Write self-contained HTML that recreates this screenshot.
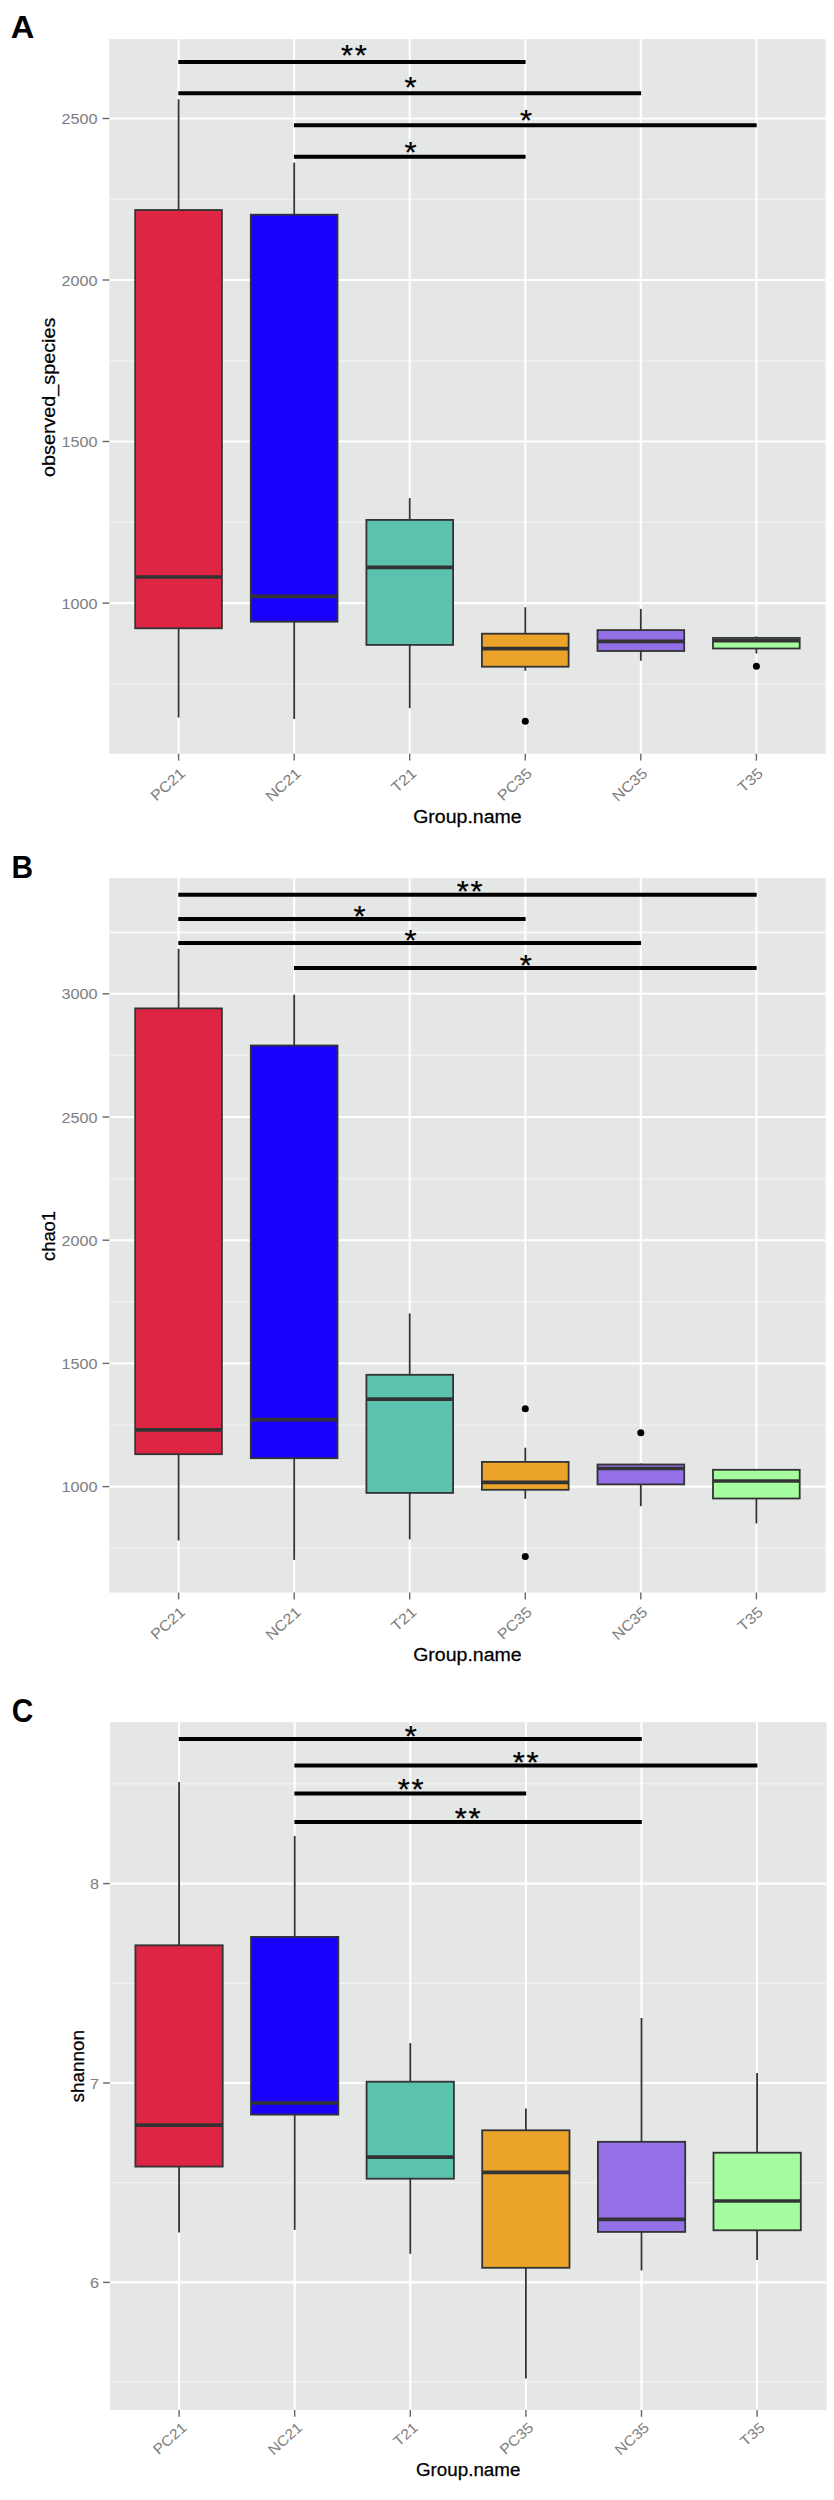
<!DOCTYPE html>
<html lang="en"><head><meta charset="utf-8"><title>Alpha diversity boxplots</title>
<style>html,body{margin:0;padding:0;background:#fff}svg{display:block}text{font-family:"Liberation Sans",Arial,Helvetica,sans-serif}</style></head><body>
<svg width="834" height="2500" viewBox="0 0 834 2500">
<rect width="834" height="2500" fill="#ffffff"/>
<g>
<rect x="109.3" y="39.1" width="716.3" height="714.7" fill="#e5e6e6"/>
<line x1="109.3" x2="825.6" y1="199.3" y2="199.3" stroke="#f1f2f2" stroke-width="1.2"/>
<line x1="109.3" x2="825.6" y1="360.8" y2="360.8" stroke="#f1f2f2" stroke-width="1.2"/>
<line x1="109.3" x2="825.6" y1="522.2" y2="522.2" stroke="#f1f2f2" stroke-width="1.2"/>
<line x1="109.3" x2="825.6" y1="683.8" y2="683.8" stroke="#f1f2f2" stroke-width="1.2"/>
<line x1="109.3" x2="825.6" y1="118.5" y2="118.5" stroke="#fff" stroke-width="2.1"/>
<line x1="109.3" x2="825.6" y1="280.0" y2="280.0" stroke="#fff" stroke-width="2.1"/>
<line x1="109.3" x2="825.6" y1="441.5" y2="441.5" stroke="#fff" stroke-width="2.1"/>
<line x1="109.3" x2="825.6" y1="603.1" y2="603.1" stroke="#fff" stroke-width="2.1"/>
<line x1="178.6" x2="178.6" y1="39.1" y2="753.8" stroke="#fff" stroke-width="2.1"/>
<line x1="294.2" x2="294.2" y1="39.1" y2="753.8" stroke="#fff" stroke-width="2.1"/>
<line x1="409.7" x2="409.7" y1="39.1" y2="753.8" stroke="#fff" stroke-width="2.1"/>
<line x1="525.3" x2="525.3" y1="39.1" y2="753.8" stroke="#fff" stroke-width="2.1"/>
<line x1="640.8" x2="640.8" y1="39.1" y2="753.8" stroke="#fff" stroke-width="2.1"/>
<line x1="756.4" x2="756.4" y1="39.1" y2="753.8" stroke="#fff" stroke-width="2.1"/>
<line x1="102.5" x2="109.3" y1="118.5" y2="118.5" stroke="#666666" stroke-width="1.4"/>
<text transform="translate(97.6,124.0) scale(1.125,1)" font-size="14.4" fill="#7d7d7d" text-anchor="end">2500</text>
<line x1="102.5" x2="109.3" y1="280.0" y2="280.0" stroke="#666666" stroke-width="1.4"/>
<text transform="translate(97.6,285.5) scale(1.125,1)" font-size="14.4" fill="#7d7d7d" text-anchor="end">2000</text>
<line x1="102.5" x2="109.3" y1="441.5" y2="441.5" stroke="#666666" stroke-width="1.4"/>
<text transform="translate(97.6,447.0) scale(1.125,1)" font-size="14.4" fill="#7d7d7d" text-anchor="end">1500</text>
<line x1="102.5" x2="109.3" y1="603.1" y2="603.1" stroke="#666666" stroke-width="1.4"/>
<text transform="translate(97.6,608.6) scale(1.125,1)" font-size="14.4" fill="#7d7d7d" text-anchor="end">1000</text>
<line x1="178.6" x2="178.6" y1="753.8" y2="760.6" stroke="#666666" stroke-width="1.4"/>
<text transform="translate(186.2,774.7) rotate(-42) scale(1.09,1)" font-size="14.8" fill="#7d7d7d" text-anchor="end">PC21</text>
<line x1="294.2" x2="294.2" y1="753.8" y2="760.6" stroke="#666666" stroke-width="1.4"/>
<text transform="translate(301.8,774.7) rotate(-42) scale(1.09,1)" font-size="14.8" fill="#7d7d7d" text-anchor="end">NC21</text>
<line x1="409.7" x2="409.7" y1="753.8" y2="760.6" stroke="#666666" stroke-width="1.4"/>
<text transform="translate(417.3,774.7) rotate(-42) scale(1.09,1)" font-size="14.8" fill="#7d7d7d" text-anchor="end">T21</text>
<line x1="525.3" x2="525.3" y1="753.8" y2="760.6" stroke="#666666" stroke-width="1.4"/>
<text transform="translate(532.9,774.7) rotate(-42) scale(1.09,1)" font-size="14.8" fill="#7d7d7d" text-anchor="end">PC35</text>
<line x1="640.8" x2="640.8" y1="753.8" y2="760.6" stroke="#666666" stroke-width="1.4"/>
<text transform="translate(648.4,774.7) rotate(-42) scale(1.09,1)" font-size="14.8" fill="#7d7d7d" text-anchor="end">NC35</text>
<line x1="756.4" x2="756.4" y1="753.8" y2="760.6" stroke="#666666" stroke-width="1.4"/>
<text transform="translate(764.0,774.7) rotate(-42) scale(1.09,1)" font-size="14.8" fill="#7d7d7d" text-anchor="end">T35</text>
<line x1="178.6" x2="178.6" y1="99.3" y2="210.0" stroke="#333333" stroke-width="1.8"/>
<line x1="178.6" x2="178.6" y1="628.3" y2="717.5" stroke="#333333" stroke-width="1.8"/>
<rect x="135.2" y="210.0" width="86.7" height="418.3" fill="#de2644" stroke="#333333" stroke-width="1.8"/>
<line x1="135.2" x2="221.9" y1="577.0" y2="577.0" stroke="#333333" stroke-width="3.7"/>
<line x1="294.2" x2="294.2" y1="162.6" y2="214.7" stroke="#333333" stroke-width="1.8"/>
<line x1="294.2" x2="294.2" y1="621.7" y2="719.0" stroke="#333333" stroke-width="1.8"/>
<rect x="250.8" y="214.7" width="86.7" height="407.0" fill="#1800fa" stroke="#333333" stroke-width="1.8"/>
<line x1="250.8" x2="337.5" y1="596.4" y2="596.4" stroke="#333333" stroke-width="3.7"/>
<line x1="409.7" x2="409.7" y1="498.1" y2="519.9" stroke="#333333" stroke-width="1.8"/>
<line x1="409.7" x2="409.7" y1="644.9" y2="708.2" stroke="#333333" stroke-width="1.8"/>
<rect x="366.4" y="519.9" width="86.7" height="125.0" fill="#5ac2ad" stroke="#333333" stroke-width="1.8"/>
<line x1="366.4" x2="453.1" y1="567.3" y2="567.3" stroke="#333333" stroke-width="3.7"/>
<line x1="525.3" x2="525.3" y1="607.2" y2="633.7" stroke="#333333" stroke-width="1.8"/>
<line x1="525.3" x2="525.3" y1="666.7" y2="670.8" stroke="#333333" stroke-width="1.8"/>
<rect x="481.9" y="633.7" width="86.7" height="33.0" fill="#eca32a" stroke="#333333" stroke-width="1.8"/>
<line x1="481.9" x2="568.6" y1="648.6" y2="648.6" stroke="#333333" stroke-width="3.7"/>
<circle cx="525.3" cy="721.3" r="3.5" fill="#000"/>
<line x1="640.8" x2="640.8" y1="608.9" y2="630.1" stroke="#333333" stroke-width="1.8"/>
<line x1="640.8" x2="640.8" y1="651.0" y2="660.7" stroke="#333333" stroke-width="1.8"/>
<rect x="597.5" y="630.1" width="86.7" height="20.9" fill="#9370e6" stroke="#333333" stroke-width="1.8"/>
<line x1="597.5" x2="684.2" y1="641.4" y2="641.4" stroke="#333333" stroke-width="3.7"/>
<line x1="756.4" x2="756.4" y1="636.4" y2="637.9" stroke="#333333" stroke-width="1.8"/>
<line x1="756.4" x2="756.4" y1="648.5" y2="653.5" stroke="#333333" stroke-width="1.8"/>
<rect x="713.0" y="637.9" width="86.7" height="10.6" fill="#a6fd9f" stroke="#333333" stroke-width="1.8"/>
<line x1="713.0" x2="799.8" y1="640.6" y2="640.6" stroke="#333333" stroke-width="3.7"/>
<circle cx="756.4" cy="666.3" r="3.5" fill="#000"/>
<line x1="178.3" x2="525.6" y1="61.9" y2="61.9" stroke="#000" stroke-width="4.0"/>
<text transform="translate(354.7,65.0) scale(1,0.95)" font-size="31" fill="#000" stroke="#000" stroke-width="0.25" letter-spacing="1.7" text-anchor="middle">**</text>
<line x1="178.3" x2="641.1" y1="93.3" y2="93.3" stroke="#000" stroke-width="4.0"/>
<text transform="translate(410.4,97.3) scale(1,0.95)" font-size="31" fill="#000" stroke="#000" stroke-width="0.25" letter-spacing="0" text-anchor="middle">*</text>
<line x1="293.9" x2="756.7" y1="125.3" y2="125.3" stroke="#000" stroke-width="4.0"/>
<text transform="translate(525.9,129.5) scale(1,0.95)" font-size="31" fill="#000" stroke="#000" stroke-width="0.25" letter-spacing="0" text-anchor="middle">*</text>
<line x1="293.9" x2="525.6" y1="156.8" y2="156.8" stroke="#000" stroke-width="4.0"/>
<text transform="translate(410.4,162.4) scale(1,0.95)" font-size="31" fill="#000" stroke="#000" stroke-width="0.25" letter-spacing="0" text-anchor="middle">*</text>
<text transform="translate(10.7,38.4) scale(1.02,1)" font-size="32" font-weight="bold" fill="#000">A</text>
<text transform="translate(55.4,397.3) rotate(-90) scale(1.075,1)" font-size="18.4" fill="#000" stroke="#000" stroke-width="0.25" text-anchor="middle">observed_species</text>
<text transform="translate(467.4,823.4) scale(1.04,1)" font-size="18.8" fill="#000" stroke="#000" stroke-width="0.25" text-anchor="middle">Group.name</text>
</g>
<g>
<rect x="109.3" y="878.1" width="716.3" height="714.5" fill="#e5e6e6"/>
<line x1="109.3" x2="825.6" y1="932.3" y2="932.3" stroke="#fbfbfb" stroke-width="1.7"/>
<line x1="109.3" x2="825.6" y1="1055.4" y2="1055.4" stroke="#f1f2f2" stroke-width="1.2"/>
<line x1="109.3" x2="825.6" y1="1178.6" y2="1178.6" stroke="#f1f2f2" stroke-width="1.2"/>
<line x1="109.3" x2="825.6" y1="1301.8" y2="1301.8" stroke="#f1f2f2" stroke-width="1.2"/>
<line x1="109.3" x2="825.6" y1="1425.0" y2="1425.0" stroke="#f1f2f2" stroke-width="1.2"/>
<line x1="109.3" x2="825.6" y1="1548.2" y2="1548.2" stroke="#f1f2f2" stroke-width="1.2"/>
<line x1="109.3" x2="825.6" y1="993.8" y2="993.8" stroke="#fff" stroke-width="2.1"/>
<line x1="109.3" x2="825.6" y1="1117.0" y2="1117.0" stroke="#fff" stroke-width="2.1"/>
<line x1="109.3" x2="825.6" y1="1240.2" y2="1240.2" stroke="#fff" stroke-width="2.1"/>
<line x1="109.3" x2="825.6" y1="1363.4" y2="1363.4" stroke="#fff" stroke-width="2.1"/>
<line x1="109.3" x2="825.6" y1="1486.6" y2="1486.6" stroke="#fff" stroke-width="2.1"/>
<line x1="178.6" x2="178.6" y1="878.1" y2="1592.6" stroke="#fff" stroke-width="2.1"/>
<line x1="294.2" x2="294.2" y1="878.1" y2="1592.6" stroke="#fff" stroke-width="2.1"/>
<line x1="409.7" x2="409.7" y1="878.1" y2="1592.6" stroke="#fff" stroke-width="2.1"/>
<line x1="525.3" x2="525.3" y1="878.1" y2="1592.6" stroke="#fff" stroke-width="2.1"/>
<line x1="640.8" x2="640.8" y1="878.1" y2="1592.6" stroke="#fff" stroke-width="2.1"/>
<line x1="756.4" x2="756.4" y1="878.1" y2="1592.6" stroke="#fff" stroke-width="2.1"/>
<line x1="102.5" x2="109.3" y1="993.8" y2="993.8" stroke="#666666" stroke-width="1.4"/>
<text transform="translate(97.6,999.3) scale(1.125,1)" font-size="14.4" fill="#7d7d7d" text-anchor="end">3000</text>
<line x1="102.5" x2="109.3" y1="1117.0" y2="1117.0" stroke="#666666" stroke-width="1.4"/>
<text transform="translate(97.6,1122.5) scale(1.125,1)" font-size="14.4" fill="#7d7d7d" text-anchor="end">2500</text>
<line x1="102.5" x2="109.3" y1="1240.2" y2="1240.2" stroke="#666666" stroke-width="1.4"/>
<text transform="translate(97.6,1245.7) scale(1.125,1)" font-size="14.4" fill="#7d7d7d" text-anchor="end">2000</text>
<line x1="102.5" x2="109.3" y1="1363.4" y2="1363.4" stroke="#666666" stroke-width="1.4"/>
<text transform="translate(97.6,1368.9) scale(1.125,1)" font-size="14.4" fill="#7d7d7d" text-anchor="end">1500</text>
<line x1="102.5" x2="109.3" y1="1486.6" y2="1486.6" stroke="#666666" stroke-width="1.4"/>
<text transform="translate(97.6,1492.1) scale(1.125,1)" font-size="14.4" fill="#7d7d7d" text-anchor="end">1000</text>
<line x1="178.6" x2="178.6" y1="1592.6" y2="1599.4" stroke="#666666" stroke-width="1.4"/>
<text transform="translate(186.2,1613.5) rotate(-42) scale(1.09,1)" font-size="14.8" fill="#7d7d7d" text-anchor="end">PC21</text>
<line x1="294.2" x2="294.2" y1="1592.6" y2="1599.4" stroke="#666666" stroke-width="1.4"/>
<text transform="translate(301.8,1613.5) rotate(-42) scale(1.09,1)" font-size="14.8" fill="#7d7d7d" text-anchor="end">NC21</text>
<line x1="409.7" x2="409.7" y1="1592.6" y2="1599.4" stroke="#666666" stroke-width="1.4"/>
<text transform="translate(417.3,1613.5) rotate(-42) scale(1.09,1)" font-size="14.8" fill="#7d7d7d" text-anchor="end">T21</text>
<line x1="525.3" x2="525.3" y1="1592.6" y2="1599.4" stroke="#666666" stroke-width="1.4"/>
<text transform="translate(532.9,1613.5) rotate(-42) scale(1.09,1)" font-size="14.8" fill="#7d7d7d" text-anchor="end">PC35</text>
<line x1="640.8" x2="640.8" y1="1592.6" y2="1599.4" stroke="#666666" stroke-width="1.4"/>
<text transform="translate(648.4,1613.5) rotate(-42) scale(1.09,1)" font-size="14.8" fill="#7d7d7d" text-anchor="end">NC35</text>
<line x1="756.4" x2="756.4" y1="1592.6" y2="1599.4" stroke="#666666" stroke-width="1.4"/>
<text transform="translate(764.0,1613.5) rotate(-42) scale(1.09,1)" font-size="14.8" fill="#7d7d7d" text-anchor="end">T35</text>
<line x1="178.6" x2="178.6" y1="948.8" y2="1008.4" stroke="#333333" stroke-width="1.8"/>
<line x1="178.6" x2="178.6" y1="1454.2" y2="1540.5" stroke="#333333" stroke-width="1.8"/>
<rect x="135.2" y="1008.4" width="86.7" height="445.8" fill="#de2644" stroke="#333333" stroke-width="1.8"/>
<line x1="135.2" x2="221.9" y1="1429.9" y2="1429.9" stroke="#333333" stroke-width="3.7"/>
<line x1="294.2" x2="294.2" y1="994.7" y2="1045.5" stroke="#333333" stroke-width="1.8"/>
<line x1="294.2" x2="294.2" y1="1458.2" y2="1559.9" stroke="#333333" stroke-width="1.8"/>
<rect x="250.8" y="1045.5" width="86.7" height="412.7" fill="#1800fa" stroke="#333333" stroke-width="1.8"/>
<line x1="250.8" x2="337.5" y1="1419.6" y2="1419.6" stroke="#333333" stroke-width="3.7"/>
<line x1="409.7" x2="409.7" y1="1313.4" y2="1374.8" stroke="#333333" stroke-width="1.8"/>
<line x1="409.7" x2="409.7" y1="1492.9" y2="1539.4" stroke="#333333" stroke-width="1.8"/>
<rect x="366.4" y="1374.8" width="86.7" height="118.1" fill="#5ac2ad" stroke="#333333" stroke-width="1.8"/>
<line x1="366.4" x2="453.1" y1="1399.1" y2="1399.1" stroke="#333333" stroke-width="3.7"/>
<line x1="525.3" x2="525.3" y1="1447.7" y2="1461.9" stroke="#333333" stroke-width="1.8"/>
<line x1="525.3" x2="525.3" y1="1489.8" y2="1498.8" stroke="#333333" stroke-width="1.8"/>
<rect x="481.9" y="1461.9" width="86.7" height="27.9" fill="#eca32a" stroke="#333333" stroke-width="1.8"/>
<line x1="481.9" x2="568.6" y1="1482.4" y2="1482.4" stroke="#333333" stroke-width="3.7"/>
<circle cx="525.3" cy="1408.7" r="3.5" fill="#000"/>
<circle cx="525.3" cy="1556.5" r="3.5" fill="#000"/>
<line x1="640.8" x2="640.8" y1="1463.5" y2="1464.5" stroke="#333333" stroke-width="1.8"/>
<line x1="640.8" x2="640.8" y1="1484.4" y2="1506.2" stroke="#333333" stroke-width="1.8"/>
<rect x="597.5" y="1464.5" width="86.7" height="19.9" fill="#9370e6" stroke="#333333" stroke-width="1.8"/>
<line x1="597.5" x2="684.2" y1="1468.5" y2="1468.5" stroke="#333333" stroke-width="3.7"/>
<circle cx="640.8" cy="1432.7" r="3.5" fill="#000"/>
<line x1="756.4" x2="756.4" y1="1498.5" y2="1523.4" stroke="#333333" stroke-width="1.8"/>
<rect x="713.0" y="1469.8" width="86.7" height="28.7" fill="#a6fd9f" stroke="#333333" stroke-width="1.8"/>
<line x1="713.0" x2="799.8" y1="1481.0" y2="1481.0" stroke="#333333" stroke-width="3.7"/>
<line x1="178.3" x2="756.7" y1="894.8" y2="894.8" stroke="#000" stroke-width="4.0"/>
<text transform="translate(470.4,900.6) scale(1,0.95)" font-size="31" fill="#000" stroke="#000" stroke-width="0.25" letter-spacing="1.7" text-anchor="middle">**</text>
<line x1="178.3" x2="525.6" y1="919.0" y2="919.0" stroke="#000" stroke-width="4.0"/>
<text transform="translate(359.4,925.9) scale(1,0.95)" font-size="31" fill="#000" stroke="#000" stroke-width="0.25" letter-spacing="0" text-anchor="middle">*</text>
<line x1="178.3" x2="641.1" y1="943.0" y2="943.0" stroke="#000" stroke-width="4.0"/>
<text transform="translate(410.6,950.1) scale(1,0.95)" font-size="31" fill="#000" stroke="#000" stroke-width="0.25" letter-spacing="0" text-anchor="middle">*</text>
<line x1="293.9" x2="756.7" y1="968.1" y2="968.1" stroke="#000" stroke-width="4.0"/>
<text transform="translate(525.8,974.7) scale(1,0.95)" font-size="31" fill="#000" stroke="#000" stroke-width="0.25" letter-spacing="0" text-anchor="middle">*</text>
<text transform="translate(11.6,877.5) scale(0.935,1)" font-size="32" font-weight="bold" fill="#000">B</text>
<text transform="translate(55.4,1236.0) rotate(-90) scale(1.0,1)" font-size="18.4" fill="#000" stroke="#000" stroke-width="0.25" text-anchor="middle">chao1</text>
<text transform="translate(467.4,1661.4) scale(1.04,1)" font-size="18.8" fill="#000" stroke="#000" stroke-width="0.25" text-anchor="middle">Group.name</text>
</g>
<g>
<rect x="109.9" y="1722.1" width="716.7" height="687.9" fill="#e5e6e6"/>
<line x1="109.9" x2="826.6" y1="1783.9" y2="1783.9" stroke="#f1f2f2" stroke-width="1.2"/>
<line x1="109.9" x2="826.6" y1="1983.3" y2="1983.3" stroke="#f1f2f2" stroke-width="1.2"/>
<line x1="109.9" x2="826.6" y1="2182.7" y2="2182.7" stroke="#f1f2f2" stroke-width="1.2"/>
<line x1="109.9" x2="826.6" y1="2382.1" y2="2382.1" stroke="#f1f2f2" stroke-width="1.2"/>
<line x1="109.9" x2="826.6" y1="1883.6" y2="1883.6" stroke="#fff" stroke-width="2.1"/>
<line x1="109.9" x2="826.6" y1="2083.0" y2="2083.0" stroke="#fff" stroke-width="2.1"/>
<line x1="109.9" x2="826.6" y1="2282.4" y2="2282.4" stroke="#fff" stroke-width="2.1"/>
<line x1="179.1" x2="179.1" y1="1722.1" y2="2410.0" stroke="#fff" stroke-width="2.1"/>
<line x1="294.7" x2="294.7" y1="1722.1" y2="2410.0" stroke="#fff" stroke-width="2.1"/>
<line x1="410.3" x2="410.3" y1="1722.1" y2="2410.0" stroke="#fff" stroke-width="2.1"/>
<line x1="525.9" x2="525.9" y1="1722.1" y2="2410.0" stroke="#fff" stroke-width="2.1"/>
<line x1="641.5" x2="641.5" y1="1722.1" y2="2410.0" stroke="#fff" stroke-width="2.1"/>
<line x1="757.1" x2="757.1" y1="1722.1" y2="2410.0" stroke="#fff" stroke-width="2.1"/>
<line x1="103.1" x2="109.9" y1="1883.6" y2="1883.6" stroke="#666666" stroke-width="1.4"/>
<text transform="translate(98.9,1889.1) scale(1.125,1)" font-size="14.4" fill="#7d7d7d" text-anchor="end">8</text>
<line x1="103.1" x2="109.9" y1="2083.0" y2="2083.0" stroke="#666666" stroke-width="1.4"/>
<text transform="translate(98.9,2088.5) scale(1.125,1)" font-size="14.4" fill="#7d7d7d" text-anchor="end">7</text>
<line x1="103.1" x2="109.9" y1="2282.4" y2="2282.4" stroke="#666666" stroke-width="1.4"/>
<text transform="translate(98.9,2287.9) scale(1.125,1)" font-size="14.4" fill="#7d7d7d" text-anchor="end">6</text>
<line x1="179.1" x2="179.1" y1="2410.0" y2="2416.8" stroke="#666666" stroke-width="1.4"/>
<text transform="translate(187.7,2428.9) rotate(-42) scale(1.09,1)" font-size="14.4" fill="#7d7d7d" text-anchor="end">PC21</text>
<line x1="294.7" x2="294.7" y1="2410.0" y2="2416.8" stroke="#666666" stroke-width="1.4"/>
<text transform="translate(303.3,2428.9) rotate(-42) scale(1.09,1)" font-size="14.4" fill="#7d7d7d" text-anchor="end">NC21</text>
<line x1="410.3" x2="410.3" y1="2410.0" y2="2416.8" stroke="#666666" stroke-width="1.4"/>
<text transform="translate(418.9,2428.9) rotate(-42) scale(1.09,1)" font-size="14.4" fill="#7d7d7d" text-anchor="end">T21</text>
<line x1="525.9" x2="525.9" y1="2410.0" y2="2416.8" stroke="#666666" stroke-width="1.4"/>
<text transform="translate(534.5,2428.9) rotate(-42) scale(1.09,1)" font-size="14.4" fill="#7d7d7d" text-anchor="end">PC35</text>
<line x1="641.5" x2="641.5" y1="2410.0" y2="2416.8" stroke="#666666" stroke-width="1.4"/>
<text transform="translate(650.1,2428.9) rotate(-42) scale(1.09,1)" font-size="14.4" fill="#7d7d7d" text-anchor="end">NC35</text>
<line x1="757.1" x2="757.1" y1="2410.0" y2="2416.8" stroke="#666666" stroke-width="1.4"/>
<text transform="translate(765.7,2428.9) rotate(-42) scale(1.09,1)" font-size="14.4" fill="#7d7d7d" text-anchor="end">T35</text>
<line x1="179.1" x2="179.1" y1="1782.0" y2="1945.3" stroke="#333333" stroke-width="1.8"/>
<line x1="179.1" x2="179.1" y1="2166.6" y2="2232.4" stroke="#333333" stroke-width="1.8"/>
<rect x="135.4" y="1945.3" width="87.3" height="221.3" fill="#de2644" stroke="#333333" stroke-width="1.8"/>
<line x1="135.4" x2="222.8" y1="2125.2" y2="2125.2" stroke="#333333" stroke-width="3.7"/>
<line x1="294.7" x2="294.7" y1="1835.9" y2="1936.9" stroke="#333333" stroke-width="1.8"/>
<line x1="294.7" x2="294.7" y1="2114.6" y2="2229.9" stroke="#333333" stroke-width="1.8"/>
<rect x="251.0" y="1936.9" width="87.3" height="177.7" fill="#1800fa" stroke="#333333" stroke-width="1.8"/>
<line x1="251.0" x2="338.3" y1="2103.0" y2="2103.0" stroke="#333333" stroke-width="3.7"/>
<line x1="410.3" x2="410.3" y1="2043.1" y2="2081.7" stroke="#333333" stroke-width="1.8"/>
<line x1="410.3" x2="410.3" y1="2178.7" y2="2253.8" stroke="#333333" stroke-width="1.8"/>
<rect x="366.6" y="2081.7" width="87.3" height="97.0" fill="#5ac2ad" stroke="#333333" stroke-width="1.8"/>
<line x1="366.6" x2="453.9" y1="2157.2" y2="2157.2" stroke="#333333" stroke-width="3.7"/>
<line x1="525.9" x2="525.9" y1="2108.5" y2="2130.3" stroke="#333333" stroke-width="1.8"/>
<line x1="525.9" x2="525.9" y1="2267.8" y2="2378.5" stroke="#333333" stroke-width="1.8"/>
<rect x="482.2" y="2130.3" width="87.3" height="137.5" fill="#eca32a" stroke="#333333" stroke-width="1.8"/>
<line x1="482.2" x2="569.5" y1="2172.4" y2="2172.4" stroke="#333333" stroke-width="3.7"/>
<line x1="641.5" x2="641.5" y1="2018.0" y2="2141.8" stroke="#333333" stroke-width="1.8"/>
<line x1="641.5" x2="641.5" y1="2231.9" y2="2270.5" stroke="#333333" stroke-width="1.8"/>
<rect x="597.9" y="2141.8" width="87.3" height="90.1" fill="#9370e6" stroke="#333333" stroke-width="1.8"/>
<line x1="597.9" x2="685.1" y1="2219.4" y2="2219.4" stroke="#333333" stroke-width="3.7"/>
<line x1="757.1" x2="757.1" y1="2072.9" y2="2152.7" stroke="#333333" stroke-width="1.8"/>
<line x1="757.1" x2="757.1" y1="2230.3" y2="2259.9" stroke="#333333" stroke-width="1.8"/>
<rect x="713.5" y="2152.7" width="87.3" height="77.6" fill="#a6fd9f" stroke="#333333" stroke-width="1.8"/>
<line x1="713.5" x2="800.8" y1="2201.0" y2="2201.0" stroke="#333333" stroke-width="3.7"/>
<line x1="178.8" x2="641.8" y1="1739.0" y2="1739.0" stroke="#000" stroke-width="4.0"/>
<text transform="translate(410.7,1746.0) scale(1,0.95)" font-size="31" fill="#000" stroke="#000" stroke-width="0.25" letter-spacing="0" text-anchor="middle">*</text>
<line x1="294.4" x2="757.4" y1="1765.5" y2="1765.5" stroke="#000" stroke-width="4.0"/>
<text transform="translate(526.4,1771.7) scale(1,0.95)" font-size="31" fill="#000" stroke="#000" stroke-width="0.25" letter-spacing="1.7" text-anchor="middle">**</text>
<line x1="294.4" x2="526.2" y1="1793.6" y2="1793.6" stroke="#000" stroke-width="4.0"/>
<text transform="translate(411.4,1798.7) scale(1,0.95)" font-size="31" fill="#000" stroke="#000" stroke-width="0.25" letter-spacing="1.7" text-anchor="middle">**</text>
<line x1="294.4" x2="641.8" y1="1821.9" y2="1821.9" stroke="#000" stroke-width="4.0"/>
<text transform="translate(468.4,1828.3) scale(1,0.95)" font-size="31" fill="#000" stroke="#000" stroke-width="0.25" letter-spacing="1.7" text-anchor="middle">**</text>
<text transform="translate(11.7,1722.0) scale(0.93,1.04)" font-size="32" font-weight="bold" fill="#000">C</text>
<text transform="translate(84.4,2066.2) rotate(-90) scale(1.03,1)" font-size="18.4" fill="#000" stroke="#000" stroke-width="0.25" text-anchor="middle">shannon</text>
<text transform="translate(468.2,2476.1) scale(1.0,1)" font-size="18.8" fill="#000" stroke="#000" stroke-width="0.25" text-anchor="middle">Group.name</text>
</g>
</svg></body></html>
